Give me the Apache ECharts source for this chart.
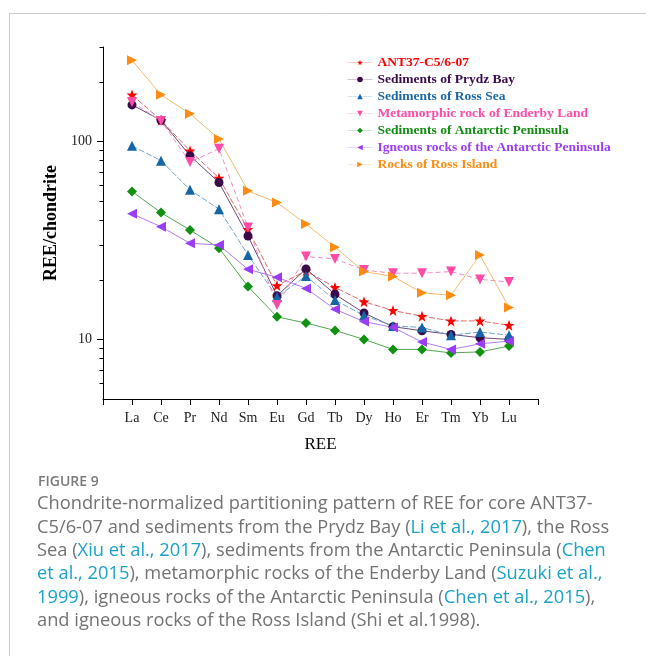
<!DOCTYPE html>
<html>
<head>
<meta charset="utf-8">
<script src="https://cdn.jsdelivr.net/npm/echarts@6/dist/echarts.min.js"></script>
<style>
  html, body { margin: 0; padding: 0; background: #fff; }
  #chart { width: 646px; height: 656px; }
</style>
</head>
<body>
<div id="chart"></div>
<script>
// REE elements (x axis categories)
const elements = ["La", "Ce", "Pr", "Nd", "Sm", "Eu", "Gd", "Tb", "Dy", "Ho", "Er", "Tm", "Yb", "Lu"];

// chondrite-normalized values
const ant37 = [172, 128, 89.7, 65.3, 36.0, 18.7, 22.2, 18.3, 15.5, 14.0, 13.1, 12.4, 12.4, 11.8];
const prydzBay = [153, 128, 84.7, 62.0, 33.3, 16.6, 22.7, 16.9, 13.6, 11.6, 11.05, 10.6, 10.2, 10.0];
const rossSea = [95, 80, 57, 45.5, 26.7, 16.4, 20.9, 15.8, 13.2, 11.7, 11.5, 10.5, 10.9, 10.5];
const enderbyLand = [158, 127, 78.7, 91.8, 36.8, 14.9, 26.2, 25.5, 22.4, 21.6, 21.6, 22.0, 20.1, 19.5];
const apSediments = [55.9, 43.7, 35.7, 28.9, 18.5, 13.0, 12.1, 11.1, 10.0, 8.9, 8.9, 8.55, 8.65, 9.25];
const apIgneous = [43.1, 37.1, 30.6, 30.0, 22.6, 20.6, 18.1, 14.2, 12.3, 11.5, 9.7, 8.9, 9.5, 9.8];
const rossIsland = [257, 172, 138, 103, 56.3, 49.1, 38.3, 29.2, 22.0, 20.8, 17.2, 16.7, 26.7, 14.5];

// y tick values
const yMajor = [10, 100];
const yMinor = [6, 7, 8, 9, 20, 30, 40, 50, 60, 70, 80, 90, 200, 300];

const serif = "'Liberation Serif', 'Times New Roman', serif";
const starPath = "path://M0,-10 L2.35,-3.24 L9.51,-3.09 L3.8,1.24 L5.88,8.09 L0,4 L-5.88,8.09 L-3.8,1.24 L-9.51,-3.09 L-2.35,-3.24 Z";

const seriesDefs = [
  { name: "ANT37-C5/6-07", data: ant37, symbol: starPath, size: 11, rotate: 0, color: "#ff0000", line: "#e36a6a", dash: [6, 2], text: "#ff0000" },
  { name: "Sediments of Prydz Bay", data: prydzBay, symbol: "circle", size: 9, rotate: 0, color: "#3b0a4a", line: "#6b4a78", dash: "solid", text: "#3a0c4c" },
  { name: "Sediments of Ross Sea", data: rossSea, symbol: "triangle", size: 10, rotate: 0, color: "#1466a8", line: "#6fa6cc", dash: [6, 2], text: "#1a68a6" },
  { name: "Metamorphic rock of Enderby Land", data: enderbyLand, symbol: "triangle", size: 10, rotate: 180, color: "#ff4aa6", line: "#f08cc4", dash: [5, 3], text: "#ff4aa6" },
  { name: "Sediments of Antarctic Peninsula", data: apSediments, symbol: "diamond", size: 10, rotate: 0, color: "#119111", line: "#52a852", dash: "solid", text: "#128c12" },
  { name: "Igneous rocks of the Antarctic Peninsula", data: apIgneous, symbol: "triangle", size: 10, rotate: 90, color: "#9a3df5", line: "#b27bf2", dash: "solid", text: "#9a3df5" },
  { name: "Rocks of Ross Island", data: rossIsland, symbol: "triangle", size: 10, rotate: -90, color: "#ff8c12", line: "#f2bb6e", dash: "solid", text: "#ff8c12" },
];

// caption lines: [text, isLink] pieces
const captionLines = [
  [["Chondrite-normalized partitioning pattern of REE for core ANT37-", 0]],
  [["C5/6-07 and sediments from the Prydz Bay (", 0], ["Li et al., 2017", 1], ["), the Ross", 0]],
  [["Sea (", 0], ["Xiu et al., 2017", 1], ["), sediments from the Antarctic Peninsula (", 0], ["Chen", 1]],
  [["et al., 2015", 1], ["), metamorphic rocks of the Enderby Land (", 0], ["Suzuki et al.,", 1]],
  [["1999", 1], ["), igneous rocks of the Antarctic Peninsula (", 0], ["Chen et al., 2015", 1], ["),", 0]],
  [["and igneous rocks of the Ross Island (Shi et al.1998).", 0]],
];

const chart = echarts.init(document.getElementById("chart"), null, { renderer: "canvas" });

const gridLeft = 103, gridRight = 108, gridTop = 47, gridBottom = 257;
const gridWidth = 646 - gridLeft - gridRight;

const captionFont = "'Open Sans', 'Lato', sans-serif";
const graphics = [
  { type: "line", shape: { x1: 9, y1: 13.5, x2: 646, y2: 13.5 }, style: { stroke: "#cccccc", lineWidth: 1 }, silent: true },
  { type: "line", shape: { x1: 9.5, y1: 13, x2: 9.5, y2: 656 }, style: { stroke: "#cccccc", lineWidth: 1 }, silent: true },
  { type: "text", left: 38, top: 475, style: { text: "FIGURE 9", fill: "#7a7a7a", font: "600 14px " + captionFont } },
];
captionLines.forEach((pieces, i) => {
  graphics.push({
    type: "text",
    left: 37,
    top: 495 + i * 23.4,
    style: {
      text: pieces.map(([t, link]) => "{" + (link ? "l" : "t") + "|" + t + "}").join(""),
      rich: {
        t: { fill: "#737373", fontSize: 18.3, fontFamily: captionFont },
        l: { fill: "#1ba3c6", fontSize: 18.3, fontFamily: captionFont },
      },
    },
  });
});

const option = {
  animation: false,
  grid: { left: gridLeft, right: gridRight, top: gridTop, bottom: gridBottom, containLabel: false },
  legend: {
    orient: "vertical",
    left: 342,
    top: 50,
    itemWidth: 25,
    itemHeight: 7,
    itemGap: 2,
    lineStyle: { width: 1, opacity: 0.3, type: "solid" },
    textStyle: { fontFamily: serif, fontWeight: "bold", fontSize: 13.5, lineHeight: 15 },
    data: seriesDefs.map((s) => ({ name: s.name, textStyle: { color: s.text } })),
  },
  xAxis: {
    type: "value",
    min: 0,
    max: 15,
    interval: 1,
    name: "REE",
    nameLocation: "middle",
    nameGap: 37,
    nameTextStyle: { fontFamily: serif, fontSize: 17, color: "#000" },
    axisLine: { show: true, lineStyle: { color: "#000", width: 1 } },
    axisTick: { show: true, inside: false, length: 6, lineStyle: { color: "#000" } },
    axisLabel: {
      fontFamily: serif,
      fontSize: 14,
      color: "#222",
      margin: 12,
      formatter: (v) => elements[v - 1] || "",
    },
    splitLine: { show: false },
  },
  yAxis: [
    {
      type: "log",
      logBase: 10,
      min: 5,
      max: 300,
      name: "REE/chondrite",
      nameLocation: "middle",
      nameGap: 38,
      nameTextStyle: { fontFamily: serif, fontWeight: "bold", fontSize: 18, color: "#000" },
      axisLine: { show: true, lineStyle: { color: "#000", width: 1 } },
      axisTick: { show: true, inside: false, length: 6, customValues: yMajor, lineStyle: { color: "#000" } },
      axisLabel: { customValues: yMajor, fontFamily: serif, fontSize: 14, color: "#222", margin: 11 },
      splitLine: { show: false },
    },
    {
      // minor ticks only, moved onto the left edge
      type: "log",
      logBase: 10,
      min: 5,
      max: 300,
      position: "right",
      offset: -gridWidth,
      axisLine: { show: false },
      axisTick: { show: true, inside: true, length: 3.5, customValues: yMinor, lineStyle: { color: "#000" } },
      axisLabel: { show: false },
      splitLine: { show: false },
    },
  ],
  series: seriesDefs.map((s) => ({
    name: s.name,
    type: "line",
    yAxisIndex: 0,
    data: s.data.map((v, i) => [i + 1, v]),
    symbol: s.symbol,
    symbolSize: s.size,
    symbolRotate: s.rotate,
    showAllSymbol: true,
    itemStyle: { color: s.color },
    lineStyle: { color: s.line, width: 1, type: s.dash },
    emphasis: { disabled: true },
  })),
  graphic: graphics,
};

chart.setOption(option);
</script>
</body>
</html>
